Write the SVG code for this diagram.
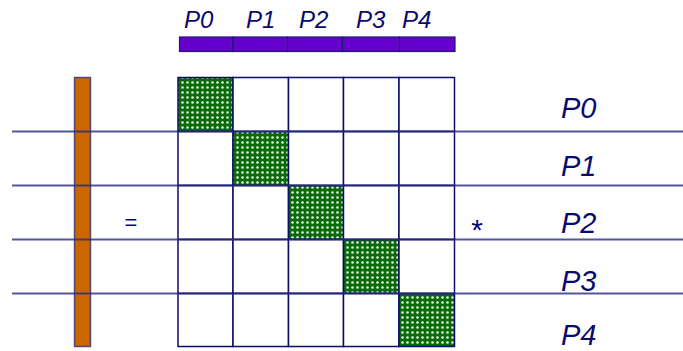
<svg xmlns="http://www.w3.org/2000/svg" width="683" height="351" viewBox="0 0 683 351">
<style>
.lbl{font-family:"Liberation Sans",Arial,sans-serif;font-style:italic;fill:#0a0a6e}
.top{font-size:24px}
.rt{font-size:29px}
.sym{font-family:"Liberation Sans",Arial,sans-serif;fill:#0a0a6e}
.cell{fill:#fff;stroke:#0c0c66;stroke-width:1.5}
.diag{fill:url(#dots);stroke:#0c0c66;stroke-width:1.5}
.hb{fill:#6600cc;stroke:#1a1a70;stroke-width:1.2}
.row{stroke:#2a2a80;stroke-width:1.8;stroke-opacity:0.8}
</style>
<defs>
<pattern id="dots" width="5" height="5" patternUnits="userSpaceOnUse">
<rect width="5" height="5" fill="#0b6b0b"/>
<circle cx="2.5" cy="2.5" r="1.3" fill="#e0f2e0"/>
</pattern>
</defs>
<rect width="683" height="351" fill="#fff"/>
<g id="header">
<rect class="hb" x="179.5" y="37" width="53.5" height="14.5"/>
<rect class="hb" x="233" y="37" width="54.5" height="14.5"/>
<rect class="hb" x="287.5" y="37" width="55" height="14.5"/>
<rect class="hb" x="342.5" y="37" width="57" height="14.5"/>
<rect class="hb" x="399.5" y="37" width="55.5" height="14.5"/>
<text class="lbl top" x="184" y="28">P0</text>
<text class="lbl top" x="246" y="28">P1</text>
<text class="lbl top" x="299" y="28">P2</text>
<text class="lbl top" x="356" y="28">P3</text>
<text class="lbl top" x="402" y="28">P4</text>
</g>
<g id="vector">
<rect x="74.5" y="77.5" width="16" height="269" fill="#cc6600" stroke="#1a1a70" stroke-width="1.5" stroke-opacity="0.7"/>
</g>
<g id="matrix">
<rect class="diag" x="178" y="77.5" width="55" height="54"/>
<rect class="cell" x="233" y="77.5" width="55.5" height="54"/>
<rect class="cell" x="288.5" y="77.5" width="55" height="54"/>
<rect class="cell" x="343.5" y="77.5" width="55.5" height="54"/>
<rect class="cell" x="399" y="77.5" width="55.5" height="54"/>

<rect class="cell" x="178" y="131.5" width="55" height="54"/>
<rect class="diag" x="233" y="131.5" width="55.5" height="54"/>
<rect class="cell" x="288.5" y="131.5" width="55" height="54"/>
<rect class="cell" x="343.5" y="131.5" width="55.5" height="54"/>
<rect class="cell" x="399" y="131.5" width="55.5" height="54"/>

<rect class="cell" x="178" y="185.5" width="55" height="54"/>
<rect class="cell" x="233" y="185.5" width="55.5" height="54"/>
<rect class="diag" x="288.5" y="185.5" width="55" height="54"/>
<rect class="cell" x="343.5" y="185.5" width="55.5" height="54"/>
<rect class="cell" x="399" y="185.5" width="55.5" height="54"/>

<rect class="cell" x="178" y="239.5" width="55" height="54"/>
<rect class="cell" x="233" y="239.5" width="55.5" height="54"/>
<rect class="cell" x="288.5" y="239.5" width="55" height="54"/>
<rect class="diag" x="343.5" y="239.5" width="55.5" height="54"/>
<rect class="cell" x="399" y="239.5" width="55.5" height="54"/>

<rect class="cell" x="178" y="293.5" width="55" height="53"/>
<rect class="cell" x="233" y="293.5" width="55.5" height="53"/>
<rect class="cell" x="288.5" y="293.5" width="55" height="53"/>
<rect class="cell" x="343.5" y="293.5" width="55.5" height="53"/>
<rect class="diag" x="399" y="293.5" width="55.5" height="53"/>
</g>
<g id="connectors">
<line class="row" x1="12" y1="131.5" x2="683" y2="131.5"/>
<line class="row" x1="12" y1="185.5" x2="683" y2="185.5"/>
<line class="row" x1="12" y1="239.5" x2="683" y2="239.5"/>
<line class="row" x1="12" y1="293.5" x2="683" y2="293.5"/>
</g>
<g id="symbols">
<text class="sym" x="131" y="230" font-size="22" text-anchor="middle">=</text>
<text class="sym" x="477" y="240" font-size="30" text-anchor="middle">*</text>
</g>
<g id="rowlabels">
<text class="lbl rt" x="561" y="118">P0</text>
<text class="lbl rt" x="561" y="176">P1</text>
<text class="lbl rt" x="561" y="233">P2</text>
<text class="lbl rt" x="561" y="291">P3</text>
<text class="lbl rt" x="561" y="345">P4</text>
</g>
</svg>
